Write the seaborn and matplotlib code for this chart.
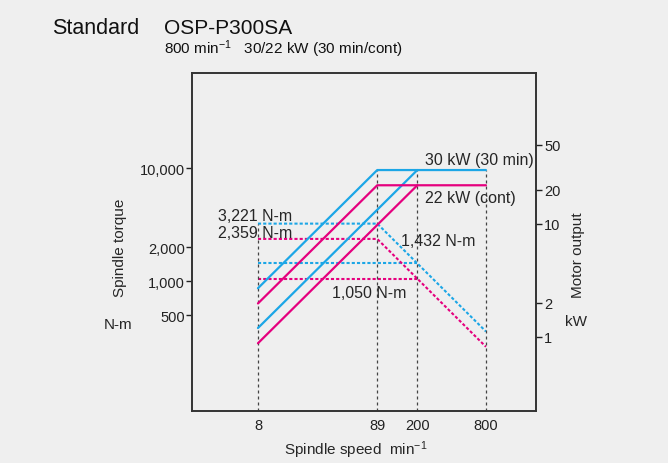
import matplotlib
matplotlib.use("Agg")
import matplotlib.pyplot as plt
import seaborn as sns
import pandas as pd

# ---------------- data ----------------
speed_ticks = [8, 89, 200, 800]
speed_tick_labels = ["8", "89", "200", "800"]
torque_ticks = [500, 1000, 2000, 10000]
torque_tick_labels = ["500", "1,000", "2,000", "10,000"]
power_ticks = [1, 2, 10, 20, 50]
power_tick_labels = ["1", "2", "10", "20", "50"]

# motor output (kW) vs spindle speed (min^-1)
p30_a_speed = [8, 89, 800]
p30_a_kw = [2.7, 30, 30]
p30_b_speed = [8, 200]
p30_b_kw = [1.2, 30]
p22_a_speed = [8, 89, 800]
p22_a_kw = [1.98, 22, 22]
p22_b_speed = [8, 200]
p22_b_kw = [0.88, 22]

# spindle torque (N-m) vs spindle speed
t30_a_speed = [8, 89, 800]
t30_a_nm = [3221, 3221, 358]
t30_b_speed = [8, 200]
t30_b_nm = [1432, 1432]
t22_a_speed = [8, 89, 800]
t22_a_nm = [2359, 2359, 262]
t22_b_speed = [8, 200]
t22_b_nm = [1050, 1050]

# guide lines (speed, top in kW)
guide_speed = [8, 89, 200, 800]
guide_top_kw = [10, 30, 30, 30]

BLUE = "#1ca6e6"
PINK = "#e5007e"
GRAY = "#444444"
BG = "#efefef"

# ---------------- style ----------------
sns.set_theme(style="white")
plt.rcParams["font.family"] = ["Liberation Sans", "DejaVu Sans"]
plt.rcParams["mathtext.fontset"] = "custom"
plt.rcParams["mathtext.rm"] = "Liberation Sans"
plt.rcParams["mathtext.it"] = "Liberation Sans:italic"
plt.rcParams["mathtext.bf"] = "Liberation Sans:bold"

W, H = 668, 464
fig = plt.figure(figsize=(W / 100, H / 100), dpi=100, facecolor=BG)
L, R, T, B = 192, 536, 74, 412
ax = fig.add_axes([L / W, 1 - B / H, (R - L) / W, (B - T) / H])
ax.set_facecolor(BG)
ax2 = ax.twinx()

def px(x, y):
    return x / W, 1 - y / H

def frame(xs, ys):
    return pd.DataFrame({"speed": xs, "val": ys})

# torque (dashed)
for xs, ys, col in [(t30_a_speed, t30_a_nm, BLUE), (t30_b_speed, t30_b_nm, BLUE),
                    (t22_a_speed, t22_a_nm, PINK), (t22_b_speed, t22_b_nm, PINK)]:
    sns.lineplot(data=frame(xs, ys), x="speed", y="val", ax=ax, color=col,
                 lw=1.5, dashes=False, estimator=None, sort=False)
    ax.lines[-1].set_dashes((1.5, 1.0))

ax.set_xscale("log")
ax.set_yscale("log")
ax.set_xlim(2.11, 2200)
ax.set_ylim(70.8, 69300)

# power (solid)
ax2.set_yscale("log")
ax2.set_ylim(0.2213, 216.7)
ax2.vlines(guide_speed, 0.2213, guide_top_kw, colors=GRAY, lw=0.9,
           linestyles=(0, (2.4, 2.4)), zorder=1)
for xs, ys, col in [(p30_a_speed, p30_a_kw, BLUE), (p30_b_speed, p30_b_kw, BLUE),
                    (p22_a_speed, p22_a_kw, PINK), (p22_b_speed, p22_b_kw, PINK)]:
    sns.lineplot(data=frame(xs, ys), x="speed", y="val", ax=ax2, color=col,
                 lw=1.6, estimator=None, sort=False, zorder=3)
ax2.set_xlim(2.11, 2200)

# ticks
ax.set_xticks(speed_ticks)
ax.set_xticklabels(speed_tick_labels)
ax.xaxis.set_minor_locator(matplotlib.ticker.NullLocator())
ax.set_yticks(torque_ticks)
ax.set_yticklabels(torque_tick_labels)
ax.yaxis.set_minor_locator(matplotlib.ticker.NullLocator())
ax2.set_yticks(power_ticks)
ax2.set_yticklabels(power_tick_labels)
ax2.yaxis.set_minor_locator(matplotlib.ticker.NullLocator())

ax.tick_params(axis="x", length=0, pad=5, labelsize=10.5, colors="#222222")
ax.tick_params(axis="y", left=True, length=4, width=1, pad=1, labelsize=10.5,
               colors="#222222", direction="out")
ax2.tick_params(axis="y", right=True, length=4, width=1, pad=2, labelsize=10.5,
                colors="#222222", direction="out")
ax.set_xlabel("")
ax.set_ylabel("")
ax2.set_ylabel("")

for a in (ax, ax2):
    for s in a.spines.values():
        s.set_color("#333333")
        s.set_linewidth(1.2)
        s.set_visible(True)

# ---------------- texts ----------------
fs = 11
fig.text(*px(52, 28.5), "Standard", fontsize=15.5, ha="left", va="center", color="#111111")
fig.text(*px(164, 28.5), "OSP-P300SA", fontsize=15, ha="left", va="center", color="#111111")
fig.text(*px(164, 49.5), "800 min$^{-1}$   30/22 kW (30 min/cont)", fontsize=11,
         ha="left", va="center", color="#111111")

fig.text(*px(120, 248), "Spindle torque", fontsize=fs, rotation=90, ha="center", va="center")
fig.text(*px(118, 325), "N-m", fontsize=fs, ha="center", va="center")
fig.text(*px(578, 255), "Motor output", fontsize=fs, rotation=90, ha="center", va="center")
fig.text(*px(576, 322), "kW", fontsize=fs, ha="center", va="center")
fig.text(*px(356, 450), "Spindle speed  min$^{-1}$", fontsize=fs, ha="center", va="center")

fig.text(*px(425, 160), "30 kW (30 min)", fontsize=11.5, ha="left", va="center")
fig.text(*px(425, 198), "22 kW (cont)", fontsize=11.5, ha="left", va="center")
fig.text(*px(218, 217), "3,221 N-m", fontsize=11.5, ha="left", va="center")
fig.text(*px(218, 234), "2,359 N-m", fontsize=11.5, ha="left", va="center")
fig.text(*px(401, 242), "1,432 N-m", fontsize=11.5, ha="left", va="center")
fig.text(*px(332, 293), "1,050 N-m", fontsize=11.5, ha="left", va="center")

fig.savefig("out.png", dpi=100, facecolor=BG)
